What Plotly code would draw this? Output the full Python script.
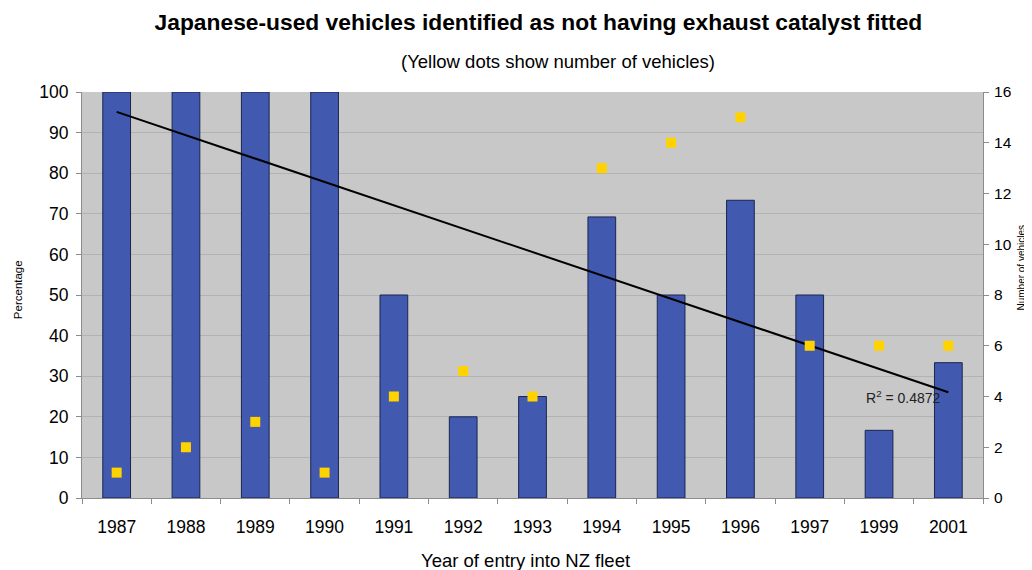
import numpy as np
import plotly.graph_objects as go

years = ["1987", "1988", "1989", "1990", "1991", "1992", "1993",
         "1994", "1995", "1996", "1997", "1999", "2001"]
percentage = [100, 100, 100, 100, 50, 20, 25, 69.23, 50, 73.33, 50, 16.67, 33.33]
vehicles = [1, 2, 3, 1, 4, 5, 4, 13, 14, 15, 6, 6, 6]

xpos = list(range(len(years)))

# Linear trendline over the percentages (as Excel does)
slope, intercept = np.polyfit(xpos, percentage, 1)
fit = [slope * x + intercept for x in xpos]

font = "Liberation Sans, Arial, sans-serif"
axis_grey = "#8C8C8C"

fig = go.Figure()

fig.add_trace(
    go.Bar(
        x=xpos,
        y=percentage,
        width=0.4,
        marker=dict(color="#4159AE", line=dict(color="#1C2550", width=1)),
        name="Percentage",
        yaxis="y",
    )
)

fig.add_trace(
    go.Scatter(
        x=[xpos[0], xpos[-1]],
        y=[fit[0], fit[-1]],
        mode="lines",
        line=dict(color="black", width=2),
        name="Trend",
        yaxis="y",
    )
)

fig.add_trace(
    go.Scatter(
        x=xpos,
        y=vehicles,
        mode="markers",
        marker=dict(symbol="square", size=10, color="#FFD200"),
        name="Vehicles",
        yaxis="y2",
    )
)

fig.add_annotation(
    x=11.35, y=25, xref="x", yref="y",
    text="R<sup>2</sup> = 0.4872",
    showarrow=False,
    font=dict(family=font, size=14, color="#222222"),
)

# subtitle
fig.add_annotation(
    x=0.528, y=1.074, xref="paper", yref="paper", yanchor="middle",
    text="(Yellow dots show number of vehicles)",
    showarrow=False,
    font=dict(family=font, size=18.5),
)

# x-axis title
fig.add_annotation(
    x=0.492, y=-0.155, xref="paper", yref="paper", yanchor="middle",
    text="Year of entry into NZ fleet",
    showarrow=False,
    font=dict(family=font, size=18.5),
)

# y-axis titles
fig.add_annotation(
    x=-0.071, y=0.512, xref="paper", yref="paper",
    xanchor="center", yanchor="middle", textangle=-90,
    text="Percentage",
    showarrow=False,
    font=dict(family=font, size=11.5),
)
fig.add_annotation(
    x=1.043, y=0.567, xref="paper", yref="paper",
    xanchor="center", yanchor="middle", textangle=-90,
    text="Number of vehicles",
    showarrow=False,
    font=dict(family=font, size=10),
)

fig.update_layout(
    width=1032,
    height=570,
    margin=dict(l=74, r=57, t=84, b=80),
    paper_bgcolor="white",
    plot_bgcolor="#C8C8C8",
    showlegend=False,
    font=dict(family=font, color="black"),
    title=dict(
        text="<b>Japanese-used vehicles identified as not having exhaust catalyst fitted</b>",
        x=0.514, xanchor="center", y=0.975, yanchor="middle",
        font=dict(size=22.8),
    ),
    xaxis=dict(
        range=[-0.5, 12.5],
        tickvals=xpos,
        ticktext=years,
        tickfont=dict(size=17.5),
        showgrid=False,
        zeroline=False,
        ticks="",
        ticklabelstandoff=13,
        showline=True,
        linecolor=axis_grey,
        minor=dict(
            tickvals=[x - 0.5 for x in xpos] + [xpos[-1] + 0.5],
            ticks="outside",
            ticklen=5,
            tickcolor=axis_grey,
            showgrid=False,
        ),
        automargin=False,
    ),
    yaxis=dict(
        range=[0, 100],
        dtick=10,
        tickfont=dict(size=17.5),
        gridcolor="#B2B2B2",
        zeroline=False,
        showline=True,
        linecolor=axis_grey,
        ticks="outside",
        ticklen=5,
        tickcolor=axis_grey,
        ticklabelstandoff=4,
        automargin=False,
    ),
    yaxis2=dict(
        range=[0, 16],
        dtick=2,
        overlaying="y",
        side="right",
        tickfont=dict(size=15.5),
        showgrid=False,
        zeroline=False,
        showline=True,
        linecolor=axis_grey,
        ticks="outside",
        ticklen=5,
        tickcolor=axis_grey,
        ticklabelstandoff=2,
        automargin=False,
    ),
)

fig.write_html("out.html")
